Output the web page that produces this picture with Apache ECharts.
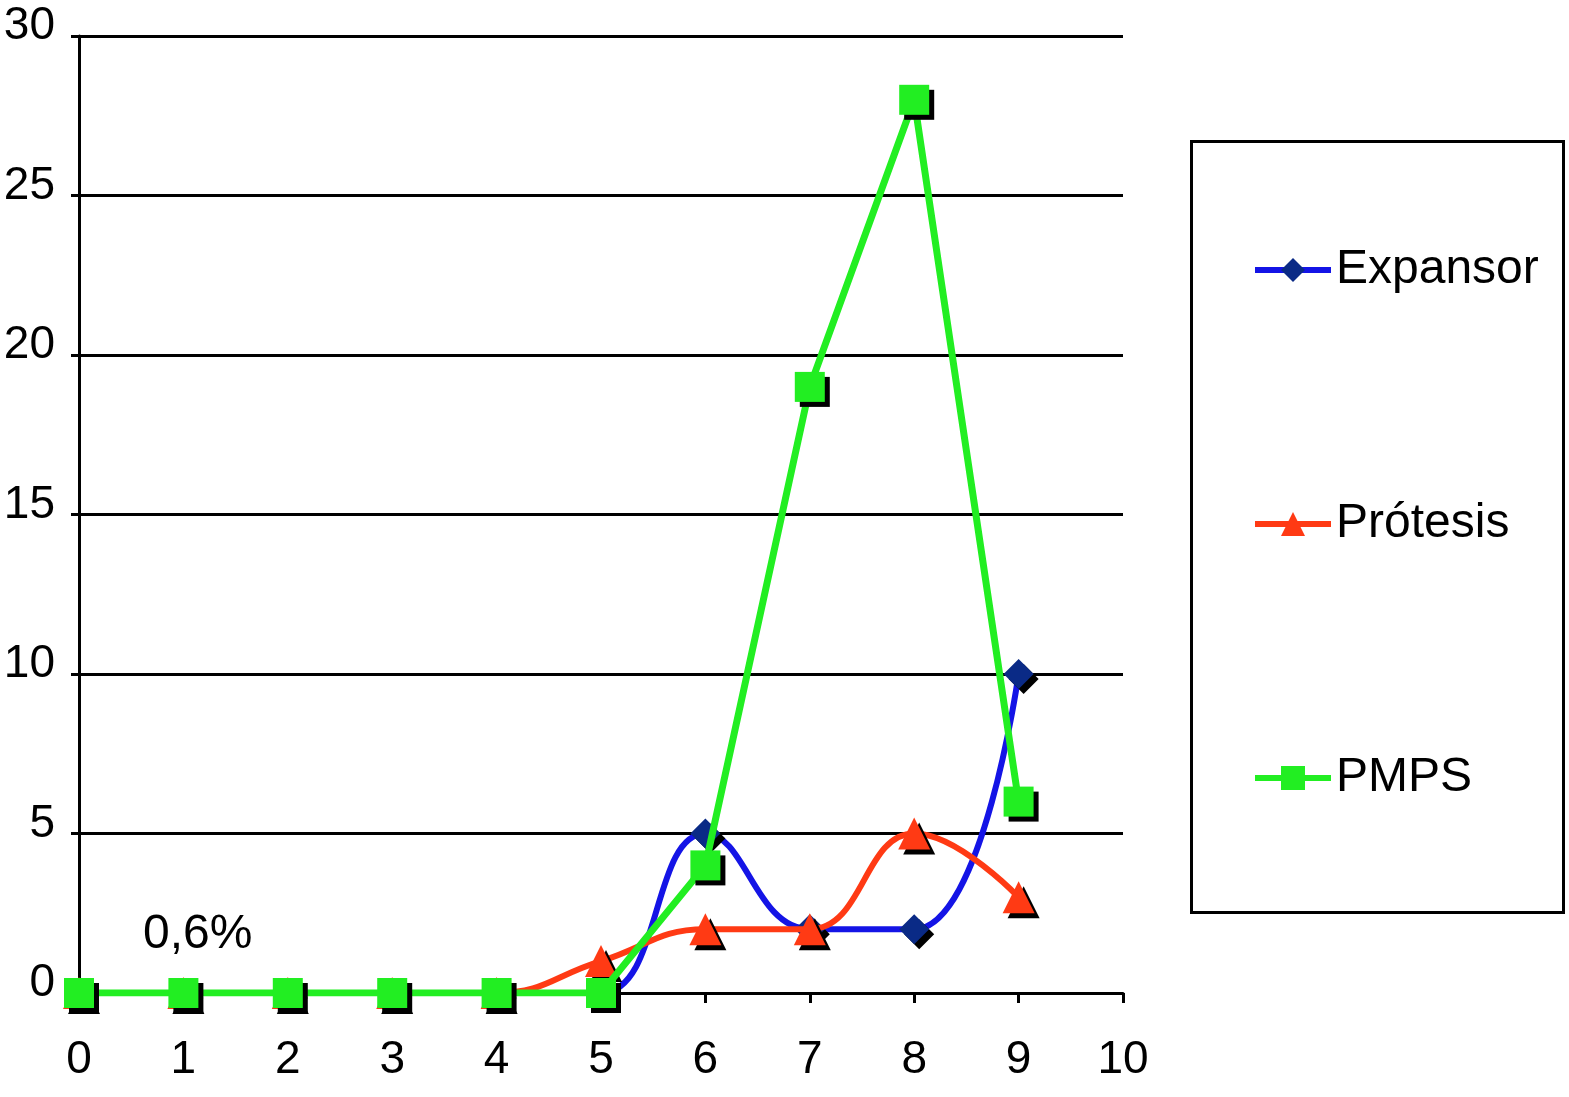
<!DOCTYPE html>
<html>
<head>
<meta charset="utf-8">
<script src="https://cdn.jsdelivr.net/npm/echarts@6/dist/echarts.min.js"></script>
<style>
html,body{margin:0;padding:0;background:#fff;}
#chart{width:1569px;height:1097px;}
</style>
</head>
<body>
<div id="chart"></div>
<script>
const xValues = [0, 1, 2, 3, 4, 5, 6, 7, 8, 9];
const expansor = [0, 0, 0, 0, 0, 0, 5, 2, 2, 10];
const protesis = [0, 0, 0, 0, 0, 1, 2, 2, 5, 3];
const pmps = [0, 0, 0, 0, 0, 0, 4, 19, 28, 6];
const seriesNames = ['Expansor', 'Prótesis', 'PMPS'];
const annotation = '0,6%';

const pairs = arr => xValues.map((x, i) => [x, arr[i]]);
const FONT = '"Liberation Sans", Arial, sans-serif';
const shadow = {shadowColor: '#000', shadowOffsetX: 5, shadowOffsetY: 5, shadowBlur: 0};

const chart = echarts.init(document.getElementById('chart'));
chart.setOption({
  animation: false,
  backgroundColor: '#fff',
  grid: {left: 79, right: 446, top: 36, bottom: 104, containLabel: false},
  xAxis: {
    type: 'value', min: 0, max: 10, interval: 1,
    axisLine: {show: true, lineStyle: {color: '#000', width: 3}},
    axisTick: {show: true, inside: false, length: 10, lineStyle: {color: '#000', width: 3}},
    axisLabel: {color: '#000', fontSize: 46, fontFamily: FONT, margin: 44},
    splitLine: {show: false}
  },
  yAxis: {
    type: 'value', min: 0, max: 30, interval: 5,
    axisLine: {show: true, lineStyle: {color: '#000', width: 3}},
    axisTick: {show: true, length: 8, lineStyle: {color: '#000', width: 3}},
    axisLabel: {color: '#000', fontSize: 46, fontFamily: FONT, margin: 24,
                verticalAlign: 'bottom', lineHeight: 19},
    splitLine: {show: true, lineStyle: {color: '#000', width: 3}}
  },
  legend: {
    orient: 'vertical', left: 1252, top: 246, padding: 0,
    itemWidth: 76, itemHeight: 30, itemGap: 206,
    lineStyle: {width: 6},
    textStyle: {fontSize: 48, fontFamily: FONT, color: '#000', lineHeight: 48},
    data: seriesNames
  },
  graphic: [
    {type: 'rect', left: 1189, top: 139, shape: {width: 372, height: 771},
     style: {fill: 'none', stroke: '#000', lineWidth: 3}, z: 0},
    {type: 'text', left: 143, top: 911, style: {text: annotation, font: '48px ' + FONT, fill: '#000'}}
  ],
  series: [
    {name: seriesNames[0], type: 'line', data: pairs(expansor), smooth: 0.45,
     symbol: 'diamond', symbolSize: 30,
     lineStyle: {color: '#1414E6', width: 6},
     itemStyle: Object.assign({color: '#0A2A86'}, shadow), z: 2},
    {name: seriesNames[1], type: 'line', data: pairs(protesis), smooth: 0.45,
     symbol: 'triangle', symbolSize: 32,
     lineStyle: {color: '#FF3A14', width: 6},
     itemStyle: Object.assign({color: '#FF3A14'}, shadow), z: 3},
    {name: seriesNames[2], type: 'line', data: pairs(pmps), smooth: false,
     symbol: 'rect', symbolSize: 30,
     lineStyle: {color: '#22EE22', width: 7},
     itemStyle: Object.assign({color: '#22EE22'}, shadow), z: 4}
  ]
});
</script>
</body>
</html>
